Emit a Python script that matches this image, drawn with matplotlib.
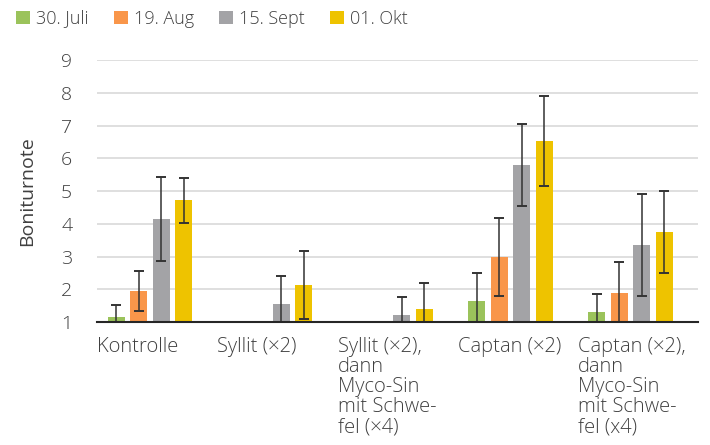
import numpy as np
from matplotlib import pyplot as plt

categories = ['Kontrolle', 'Syllit (×2)', 'Syllit (×2),\ndann\nMyco-Sin\nmit Schwe-\nfel (×4)',
              'Captan (×2)', 'Captan (×2),\ndann\nMyco-Sin\nmit Schwe-\nfel (x4)']
series_names = ['30. Juli', '19. Aug', '15. Sept', '01. Okt']

juli = [1.15, np.nan, np.nan, 1.64, 1.31]
juli_err = [0.37, np.nan, np.nan, 0.86, 0.55]
aug = [1.95, np.nan, np.nan, 2.98, 1.89]
aug_err = [0.60, np.nan, np.nan, 1.19, 0.94]
sept = [4.15, 1.55, 1.21, 5.79, 3.35]
sept_err = [1.27, 0.85, 0.55, 1.25, 1.56]
okt = [4.72, 2.13, 1.40, 6.53, 3.75]
okt_err = [0.69, 1.04, 0.79, 1.36, 1.24]

colors = ['#9bc35b', '#f9964a', '#a3a3a6', '#eec300']
text_color = '#404040'

plt.rcParams['font.family'] = ['Open Sans', 'DejaVu Sans']
plt.rcParams['font.weight'] = 'light'

fig = plt.figure(figsize=(7.1, 4.45), dpi=100)
ax = fig.add_axes([0.137, 0.276, 0.846, 0.589])

x = np.arange(len(categories))
width = 0.141
pitch = 0.187
handles = []
for i, (vals, errs) in enumerate([(juli, juli_err), (aug, aug_err), (sept, sept_err), (okt, okt_err)]):
    vals = np.array(vals)
    errs = np.array(errs)
    pos = x - 0.06 + (i - 1.5) * pitch
    ok = ~np.isnan(vals)
    b = ax.bar(pos[ok], vals[ok] - 1, width, bottom=1, color=colors[i], label=series_names[i], zorder=2)
    handles.append(b)
    ax.errorbar(pos[ok], vals[ok], yerr=errs[ok], fmt='none', ecolor='#333333',
                elinewidth=1.1, capsize=3.5, capthick=1.4, zorder=3)

ax.set_ylim(1, 9)
ax.set_xlim(-0.5, len(categories) - 0.5)
ax.set_yticks(range(1, 10))
ax.yaxis.grid(True, color='#d9d9d9', linewidth=1.2, zorder=0)
ax.set_axisbelow(True)
for s in ['top', 'right', 'left']:
    ax.spines[s].set_visible(False)
ax.spines['bottom'].set_color('#262626')
ax.spines['bottom'].set_linewidth(1.5)
ax.spines['bottom'].set_zorder(4)
ax.tick_params(axis='y', length=0, pad=18, labelsize=14, labelcolor=text_color)
ax.set_xticks(x - 0.5)
ax.set_xticklabels(categories)
ax.tick_params(axis='x', length=0, pad=11, labelsize=14.5, labelcolor=text_color)
for lab in ax.get_xticklabels():
    lab.set_ha('left')
    lab.set_va('top')
    lab.set_linespacing(1.0)

ax.set_ylabel('Boniturnote', fontsize=14, color=text_color, labelpad=18)

fig.legend(handles=handles, loc='upper left', bbox_to_anchor=(0.0, 1.015), ncol=4, frameon=False,
           fontsize=13, handlelength=0.75, handleheight=0.75, handletextpad=0.35,
           columnspacing=1.4, labelcolor=text_color)

fig.savefig('out.png', dpi=100)
